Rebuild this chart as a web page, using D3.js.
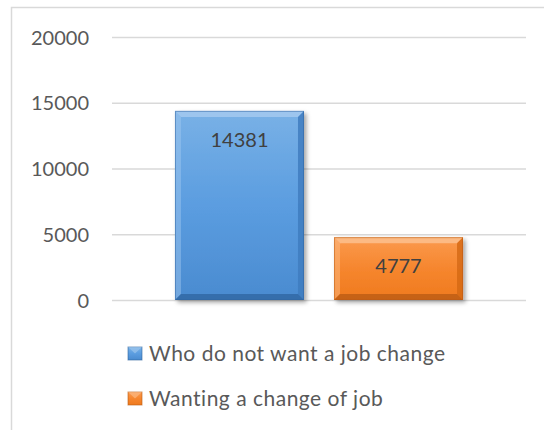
<!DOCTYPE html>
<html>
<head>
<meta charset="utf-8">
<script src="https://cdn.jsdelivr.net/npm/d3@7"></script>
<style>
  html, body { margin: 0; padding: 0; background: #ffffff; }
  svg { display: block; }
  text { font-family: Lato, "Open Sans", sans-serif; }
</style>
</head>
<body>
<svg id="chart" width="544" height="430"></svg>
<script>
// Survey: people wanting / not wanting a change of job
const seriesNames = ["Who do not want a job change", "Wanting a change of job"];
const seriesValues = [14381, 4777];
const tickValues = [0, 5000, 10000, 15000, 20000];

const palette = [
  { top: "#79b1e6", mid: "#5b9de0", bottom: "#4a8bd0", light: "#a3c9ef", dark: "#2f649f", side: "#3f7cc0" },
  { top: "#fb9a4e", mid: "#f6862e", bottom: "#ef7a1e", light: "#fcc08e", dark: "#b85a12", side: "#d66a16" }
];

const svg = d3.select("#chart");
const plot = { left: 112, right: 526, top: 37, bottom: 300 };
const bevel = 6;

// Chart area frame
svg.append("rect")
  .attr("x", 11.5).attr("y", 7.5)
  .attr("width", 545).attr("height", 440)
  .attr("fill", "#ffffff")
  .attr("stroke", "#d9d9d9").attr("stroke-width", 1.5);

const defs = svg.append("defs");
const shadow = defs.append("filter").attr("id", "barShadow")
  .attr("x", "-10%").attr("y", "-10%").attr("width", "130%").attr("height", "130%");
shadow.append("feDropShadow")
  .attr("dx", 2.5).attr("dy", 2.5).attr("stdDeviation", 2)
  .attr("flood-color", "#000").attr("flood-opacity", 0.35);

palette.forEach((c, i) => {
  const g = defs.append("linearGradient").attr("id", "fill" + i)
    .attr("x1", 0).attr("y1", 0).attr("x2", 0).attr("y2", 1);
  g.append("stop").attr("offset", "0%").attr("stop-color", c.top);
  g.append("stop").attr("offset", "50%").attr("stop-color", c.mid);
  g.append("stop").attr("offset", "100%").attr("stop-color", c.bottom);
});

const y = d3.scaleLinear().domain([0, 20000]).range([plot.bottom, plot.top]);
const x = d3.scaleBand()
  .domain(seriesNames)
  .range([plot.left, plot.right])
  .paddingInner(0.1887)
  .paddingOuter(0.396);

// Horizontal gridlines
const yAxis = d3.axisLeft(y)
  .tickValues(tickValues)
  .tickSize(-(plot.right - plot.left))
  .tickPadding(23)
  .tickFormat(d3.format("d"));

const axisG = svg.append("g")
  .attr("transform", `translate(${plot.left},0)`)
  .call(yAxis);
axisG.select(".domain").remove();
axisG.selectAll(".tick line")
  .attr("stroke", "#d9d9d9").attr("stroke-width", 1.5);
axisG.selectAll(".tick text")
  .attr("fill", "#595959")
  .style("font-size", "20px")
  .attr("dy", "0.36em");

// Bars with bevelled edges
const bars = svg.append("g").selectAll("g.bar")
  .data(seriesValues)
  .join("g")
  .attr("class", "bar")
  .attr("filter", "url(#barShadow)");

bars.each(function (v, i) {
  const g = d3.select(this);
  const c = palette[i];
  const x0 = x(seriesNames[i]);
  const x1 = x0 + x.bandwidth();
  const y0 = y(v);
  const y1 = y(0);
  const b = bevel;
  g.append("rect")
    .attr("x", x0).attr("y", y0)
    .attr("width", x1 - x0).attr("height", y1 - y0)
    .attr("fill", `url(#fill${i})`);
  const faces = [
    { pts: [[x0, y0], [x1, y0], [x1 - b, y0 + b], [x0 + b, y0 + b]], fill: c.light, op: 0.85 },
    { pts: [[x0, y0], [x0 + b, y0 + b], [x0 + b, y1 - b], [x0, y1]], fill: c.light, op: 0.45 },
    { pts: [[x1, y0], [x1, y1], [x1 - b, y1 - b], [x1 - b, y0 + b]], fill: c.side, op: 0.85 },
    { pts: [[x0, y1], [x0 + b, y1 - b], [x1 - b, y1 - b], [x1, y1]], fill: c.dark, op: 0.75 }
  ];
  faces.forEach(f => {
    g.append("polygon")
      .attr("points", f.pts.map(p => p.join(",")).join(" "))
      .attr("fill", f.fill)
      .attr("fill-opacity", f.op);
  });
  g.append("rect")
    .attr("x", x0 + 0.5).attr("y", y0 + 0.5)
    .attr("width", x1 - x0 - 1).attr("height", y1 - y0 - 1)
    .attr("fill", "none")
    .attr("stroke", c.dark).attr("stroke-opacity", 0.5).attr("stroke-width", 1);
});

// Value labels inside the top of each bar
svg.append("g").selectAll("text")
  .data(seriesValues)
  .join("text")
  .attr("x", (d, i) => x(seriesNames[i]) + x.bandwidth() / 2)
  .attr("y", d => y(d) + 36)
  .attr("text-anchor", "middle")
  .attr("fill", "#404040")
  .style("font-size", "20px")
  .text(d => d);

// Legend
const legend = svg.append("g").selectAll("g")
  .data(seriesNames)
  .join("g")
  .attr("transform", (d, i) => `translate(128,${347 + i * 45})`);

legend.append("rect")
  .attr("width", 14).attr("height", 13)
  .attr("fill", (d, i) => `url(#fill${i})`)
  .attr("stroke", (d, i) => palette[i].dark).attr("stroke-opacity", 0.6);
legend.append("polygon")
  .attr("points", "0,0 14,0 7,6.5")
  .attr("fill", (d, i) => palette[i].light)
  .attr("fill-opacity", 0.6);
legend.append("text")
  .attr("x", 21).attr("y", 6.5)
  .attr("dy", "0.36em")
  .attr("fill", "#595959")
  .style("font-size", "21px")
  .style("letter-spacing", "0.5px")
  .text(d => d);
</script>
</body>
</html>
